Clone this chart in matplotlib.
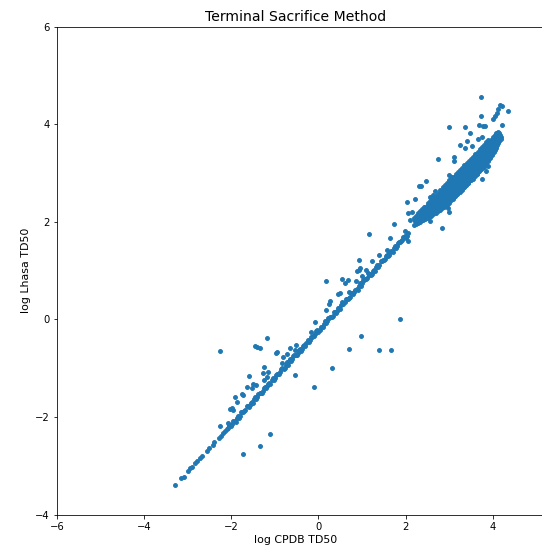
import numpy as np
import matplotlib.pyplot as plt

# sparse low end of the diagonal
low_x = [-3.29, -3.15, -3.09, -2.99, -2.94, -2.89, -2.83, -2.78, -2.71, -2.68,
         -2.56, -2.50, -2.43, -2.39, -2.29, -2.24, -2.19, -2.14, -2.10]
low_y = [-3.40, -3.26, -3.22, -3.10, -3.05, -3.02, -2.95, -2.91, -2.83, -2.80,
         -2.70, -2.63, -2.57, -2.52, -2.44, -2.38, -2.33, -2.29, -2.25]

# dense diagonal band
band_x = [-2.05, -2.00, -1.95, -1.90, -1.85, -1.80, -1.75, -1.70, -1.65, -1.60,
          -1.55, -1.50, -1.45, -1.40, -1.35, -1.30, -1.25, -1.20, -1.15, -1.10,
          -1.05, -1.00, -0.95, -0.90, -0.85, -0.80, -0.75, -0.70, -0.65, -0.60,
          -0.55, -0.50, -0.45, -0.40, -0.35, -0.30, -0.25, -0.20, -0.15, -0.10,
          -0.05, 0.00, 0.05, 0.10, 0.15, 0.20, 0.25, 0.30, 0.35, 0.40,
          0.45, 0.50, 0.55, 0.60, 0.65, 0.70, 0.75, 0.80, 0.85, 0.90,
          0.95, 1.00, 1.05, 1.10, 1.15, 1.20, 1.25, 1.30, 1.35, 1.40,
          1.45, 1.50, 1.55, 1.60, 1.65, 1.70, 1.75, 1.80, 1.85, 1.90,
          1.95, 2.00, 2.05]
band_y = [-2.17, -2.18, -2.09, -2.10, -1.97, -1.97, -1.89, -1.88, -1.78, -1.80,
          -1.71, -1.71, -1.58, -1.58, -1.50, -1.50, -1.40, -1.41, -1.32, -1.32,
          -1.19, -1.20, -1.12, -1.11, -1.01, -1.02, -0.94, -0.94, -0.81, -0.81,
          -0.73, -0.72, -0.63, -0.64, -0.55, -0.55, -0.42, -0.42, -0.35, -0.34,
          -0.24, -0.25, -0.16, -0.16, -0.04, -0.04, 0.04, 0.05, 0.15, 0.14,
          0.23, 0.22, 0.35, 0.35, 0.43, 0.44, 0.54, 0.52, 0.61, 0.61,
          0.74, 0.74, 0.81, 0.82, 0.92, 0.91, 1.00, 1.00, 1.12, 1.12,
          1.20, 1.21, 1.31, 1.30, 1.38, 1.38, 1.51, 1.51, 1.59, 1.60,
          1.69, 1.68, 1.77]
band2_x = [-2.075, -2.025, -1.975, -1.925, -1.875, -1.825, -1.775, -1.725, -1.675, -1.625,
           -1.575, -1.525, -1.475, -1.425, -1.375, -1.325, -1.275, -1.225, -1.175, -1.125,
           -1.075, -1.025, -0.975, -0.925, -0.875, -0.825, -0.775, -0.725, -0.675, -0.625,
           -0.575, -0.525, -0.475, -0.425, -0.375, -0.325, -0.275, -0.225, -0.175, -0.125,
           -0.075, -0.025, 0.025, 0.075, 0.125, 0.175, 0.225, 0.275, 0.325, 0.375,
           0.425, 0.475, 0.525, 0.575, 0.625, 0.675, 0.725, 0.775, 0.825, 0.875,
           0.925, 0.975, 1.025, 1.075, 1.125, 1.175, 1.225, 1.275, 1.325, 1.375,
           1.425, 1.475, 1.525, 1.575, 1.625, 1.675, 1.725, 1.775, 1.825, 1.875,
           1.925, 1.975, 2.025]
band2_y = [-2.23, -2.16, -2.15, -2.08, -2.02, -2.01, -1.90, -1.89, -1.85, -1.77,
           -1.76, -1.69, -1.63, -1.63, -1.52, -1.50, -1.46, -1.38, -1.37, -1.31,
           -1.25, -1.24, -1.13, -1.11, -1.08, -1.00, -0.99, -0.92, -0.86, -0.85,
           -0.75, -0.73, -0.69, -0.61, -0.60, -0.53, -0.48, -0.47, -0.36, -0.34,
           -0.30, -0.22, -0.22, -0.15, -0.09, -0.08, 0.03, 0.05, 0.08, 0.16,
           0.17, 0.24, 0.30, 0.31, 0.41, 0.43, 0.47, 0.55, 0.56, 0.63,
           0.68, 0.69, 0.80, 0.82, 0.86, 0.94, 0.94, 1.01, 1.07, 1.08,
           1.19, 1.21, 1.24, 1.32, 1.33, 1.40, 1.46, 1.47, 1.57, 1.59,
           1.63, 1.71, 1.72]

# dense cluster at the top end
blob_x = [2.19, 2.22, 2.20, 2.24, 2.27, 2.25,
          2.29, 2.32, 2.30, 2.28, 2.34, 2.37, 2.35, 2.33,
          2.39, 2.42, 2.40, 2.38, 2.44, 2.47, 2.45, 2.43,
          2.49, 2.52, 2.50, 2.48, 2.51, 2.54, 2.57, 2.55, 2.53, 2.56,
          2.59, 2.62, 2.60, 2.58, 2.61, 2.64, 2.67, 2.65, 2.63, 2.66,
          2.69, 2.72, 2.70, 2.68, 2.71, 2.74, 2.77, 2.75, 2.73, 2.76,
          2.79, 2.82, 2.80, 2.78, 2.81, 2.80, 2.84, 2.87, 2.85, 2.83, 2.86, 2.85,
          2.89, 2.92, 2.90, 2.88, 2.91, 2.90, 2.94, 2.97, 2.95, 2.93, 2.96, 2.95,
          2.99, 3.02, 3.00, 2.98, 3.01, 3.00, 3.04, 3.07, 3.05, 3.03, 3.06, 3.05,
          3.09, 3.12, 3.10, 3.08, 3.11, 3.10, 3.14, 3.17, 3.15, 3.13, 3.16, 3.15,
          3.19, 3.22, 3.20, 3.18, 3.21, 3.20, 3.24, 3.27, 3.25, 3.23, 3.26, 3.25,
          3.29, 3.32, 3.30, 3.28, 3.31, 3.30, 3.34, 3.37, 3.35, 3.33, 3.36, 3.35,
          3.39, 3.42, 3.40, 3.38, 3.41, 3.40, 3.44, 3.47, 3.45, 3.43, 3.46, 3.45,
          3.49, 3.52, 3.50, 3.48, 3.51, 3.50, 3.54, 3.57, 3.55, 3.53, 3.56, 3.55,
          3.59, 3.62, 3.60, 3.58, 3.61, 3.60, 3.64, 3.67, 3.65, 3.63, 3.66, 3.65,
          3.69, 3.72, 3.70, 3.68, 3.71, 3.70, 3.74, 3.77, 3.75, 3.73, 3.76, 3.75,
          3.79, 3.82, 3.80, 3.78, 3.81, 3.80, 3.84, 3.87, 3.85, 3.83, 3.86, 3.85,
          3.89, 3.92, 3.90, 3.88, 3.91, 3.90, 3.94, 3.97, 3.95, 3.93, 3.96,
          3.99, 4.02, 4.00, 3.98, 4.01, 4.04, 4.07, 4.05, 4.03, 4.06,
          4.09, 4.12, 4.10, 4.08, 4.14, 4.17, 4.15]
blob_y = [1.93, 2.02, 2.08, 1.95, 2.03, 2.12,
          1.98, 2.06, 2.15, 2.19, 2.00, 2.09, 2.17, 2.22,
          2.03, 2.11, 2.18, 2.27, 2.06, 2.14, 2.22, 2.31,
          2.09, 2.18, 2.25, 2.33, 2.38, 2.11, 2.20, 2.28, 2.36, 2.42,
          2.13, 2.23, 2.31, 2.39, 2.46, 2.16, 2.26, 2.34, 2.43, 2.51,
          2.19, 2.29, 2.37, 2.45, 2.55, 2.22, 2.32, 2.41, 2.50, 2.59,
          2.25, 2.35, 2.44, 2.53, 2.62, 2.66, 2.28, 2.38, 2.48, 2.57, 2.65, 2.71,
          2.31, 2.42, 2.52, 2.61, 2.70, 2.76, 2.35, 2.46, 2.56, 2.64, 2.73, 2.80,
          2.39, 2.49, 2.60, 2.69, 2.77, 2.85, 2.44, 2.54, 2.64, 2.73, 2.82, 2.89,
          2.48, 2.59, 2.69, 2.78, 2.86, 2.93, 2.53, 2.63, 2.73, 2.82, 2.91, 2.98,
          2.57, 2.67, 2.77, 2.86, 2.95, 3.02, 2.62, 2.72, 2.82, 2.91, 3.00, 3.07,
          2.66, 2.76, 2.86, 2.95, 3.04, 3.11, 2.71, 2.81, 2.91, 3.00, 3.09, 3.16,
          2.75, 2.85, 2.95, 3.04, 3.13, 3.20, 2.80, 2.90, 3.00, 3.09, 3.18, 3.25,
          2.85, 2.95, 3.05, 3.14, 3.23, 3.30, 2.89, 2.99, 3.09, 3.18, 3.27, 3.34,
          2.94, 3.04, 3.14, 3.23, 3.32, 3.39, 2.99, 3.09, 3.19, 3.28, 3.37, 3.44,
          3.04, 3.14, 3.24, 3.33, 3.42, 3.49, 3.08, 3.18, 3.28, 3.37, 3.46, 3.53,
          3.13, 3.23, 3.33, 3.42, 3.51, 3.58, 3.20, 3.30, 3.39, 3.48, 3.57, 3.63,
          3.26, 3.36, 3.45, 3.54, 3.62, 3.67, 3.33, 3.43, 3.51, 3.60, 3.68,
          3.40, 3.49, 3.57, 3.66, 3.74, 3.48, 3.56, 3.64, 3.72, 3.79,
          3.57, 3.65, 3.73, 3.82, 3.66, 3.74, 3.83]
blob2_x = [2.23, 2.22, 2.28, 2.27, 2.33, 2.32,
           2.38, 2.37, 2.36, 2.43, 2.42, 2.41, 2.48, 2.47, 2.46,
           2.53, 2.52, 2.51, 2.54, 2.58, 2.57, 2.56, 2.59,
           2.63, 2.62, 2.61, 2.64, 2.68, 2.67, 2.66, 2.69,
           2.73, 2.72, 2.71, 2.74, 2.78, 2.77, 2.76, 2.79,
           2.83, 2.82, 2.81, 2.84, 2.88, 2.87, 2.86, 2.89, 2.87,
           2.93, 2.92, 2.91, 2.94, 2.92, 2.98, 2.97, 2.96, 2.99, 2.97,
           3.03, 3.02, 3.01, 3.04, 3.02, 3.08, 3.07, 3.06, 3.09, 3.07,
           3.13, 3.12, 3.11, 3.14, 3.12, 3.18, 3.17, 3.16, 3.19, 3.17,
           3.23, 3.22, 3.21, 3.24, 3.22, 3.28, 3.27, 3.26, 3.29, 3.27,
           3.33, 3.32, 3.31, 3.34, 3.32, 3.38, 3.37, 3.36, 3.39, 3.37,
           3.43, 3.42, 3.41, 3.44, 3.42, 3.48, 3.47, 3.46, 3.49, 3.47,
           3.53, 3.52, 3.51, 3.54, 3.52, 3.58, 3.57, 3.56, 3.59, 3.57,
           3.63, 3.62, 3.61, 3.64, 3.62, 3.68, 3.67, 3.66, 3.69, 3.67,
           3.73, 3.72, 3.71, 3.74, 3.72, 3.78, 3.77, 3.76, 3.79, 3.77,
           3.83, 3.82, 3.81, 3.84, 3.82, 3.88, 3.87, 3.86, 3.89, 3.87,
           3.93, 3.92, 3.91, 3.94, 3.98, 3.97, 3.96, 3.99,
           4.03, 4.02, 4.01, 4.04, 4.08, 4.07, 4.06, 4.09,
           4.13, 4.12, 4.11, 4.18, 4.17]
blob2_y = [1.97, 2.05, 1.99, 2.07, 2.02, 2.11,
           2.05, 2.13, 2.20, 2.07, 2.15, 2.23, 2.10, 2.18, 2.26,
           2.13, 2.22, 2.29, 2.36, 2.16, 2.24, 2.32, 2.39,
           2.18, 2.27, 2.35, 2.43, 2.21, 2.30, 2.38, 2.47,
           2.24, 2.33, 2.41, 2.50, 2.27, 2.36, 2.45, 2.55,
           2.30, 2.40, 2.49, 2.58, 2.33, 2.43, 2.52, 2.61, 2.68,
           2.36, 2.47, 2.56, 2.65, 2.73, 2.40, 2.51, 2.60, 2.69, 2.77,
           2.44, 2.55, 2.64, 2.73, 2.81, 2.49, 2.59, 2.68, 2.77, 2.85,
           2.53, 2.64, 2.73, 2.82, 2.90, 2.58, 2.68, 2.77, 2.86, 2.94,
           2.62, 2.72, 2.81, 2.90, 2.98, 2.67, 2.77, 2.86, 2.95, 3.03,
           2.71, 2.81, 2.90, 2.99, 3.07, 2.76, 2.86, 2.95, 3.04, 3.12,
           2.80, 2.90, 2.99, 3.08, 3.16, 2.85, 2.95, 3.04, 3.13, 3.21,
           2.90, 3.00, 3.09, 3.18, 3.26, 2.94, 3.04, 3.13, 3.22, 3.30,
           2.99, 3.09, 3.18, 3.27, 3.35, 3.04, 3.14, 3.23, 3.32, 3.40,
           3.09, 3.19, 3.28, 3.37, 3.45, 3.13, 3.23, 3.32, 3.41, 3.49,
           3.18, 3.28, 3.37, 3.46, 3.54, 3.25, 3.34, 3.43, 3.52, 3.60,
           3.31, 3.40, 3.49, 3.58, 3.38, 3.47, 3.55, 3.64,
           3.44, 3.53, 3.61, 3.70, 3.52, 3.60, 3.68, 3.75,
           3.61, 3.69, 3.77, 3.70, 3.78]

# points off the diagonal
out_x = [-2.25, -1.18, -1.45, -1.40, -1.35, -0.97, -0.95, -0.82, -0.71, -0.66,
         -0.51, -0.53, -0.18, -0.09, 0.17, 0.25, 0.27, 0.46, 0.50, 0.70,
         0.18, 0.55, 0.69, 0.86, 0.60, 0.92, 0.96, 0.88, 1.10, 1.13,
         1.00, 0.93, 1.17, 1.22, 1.38, 1.57, 1.61, 1.74, 1.64, 1.98,
         2.05, 2.04, 2.21, 2.05, 2.14, 2.11, 2.23, 2.31, 2.36, 2.47,
         2.63, 2.56, 2.68, 2.75, 3.10, 3.11, 3.00, 3.36, 3.48, 3.40,
         3.25, 3.36, 3.52, 3.67, 3.75, 3.69, 3.78, 3.82, 3.73, 3.73,
         4.17, 4.21, 4.34, 4.13, 4.09, 4.05, 4.00, 4.21, 4.13, 4.18,
         3.00, 3.06, 3.90, 3.85, 3.75, 3.33, 2.84, 2.55, 2.97, 3.00,
         -1.73, -1.35, -1.11, -0.53, -0.11, 0.31, 0.70, 1.39, 1.66, 0.97,
         1.87, -2.25, -2.08, -2.06, -1.99, -2.03, -1.95, -1.91, -1.86, -1.76,
         -1.72, -1.64, -1.53, -1.49, -1.43, -1.59, -1.25, -1.28, -1.15, -1.26,
         -1.18, -0.84, -0.72]
out_y = [-0.65, -0.37, -0.54, -0.56, -0.58, -0.69, -0.66, -0.76, -0.71, -0.59,
         -0.52, -0.63, -0.26, -0.06, 0.19, 0.31, 0.37, 0.52, 0.54, 0.56,
         0.79, 0.84, 0.81, 0.79, 0.75, 1.02, 1.05, 0.99, 1.01, 0.95,
         0.90, 1.22, 1.75, 1.19, 1.32, 1.43, 1.39, 1.96, 1.67, 1.81,
         1.61, 2.41, 2.47, 2.18, 2.20, 2.05, 2.08, 2.74, 2.74, 2.84,
         2.56, 2.52, 2.64, 3.30, 3.33, 3.25, 3.94, 3.94, 3.82, 3.65,
         3.58, 3.52, 3.55, 3.70, 3.74, 3.99, 3.97, 3.97, 4.18, 4.56,
         4.39, 4.37, 4.27, 4.32, 4.23, 4.18, 4.11, 3.99, 3.84, 3.75,
         2.97, 2.93, 3.14, 3.04, 2.88, 2.73, 1.87, 2.01, 2.28, 2.20,
         -2.75, -2.59, -2.34, -1.14, -1.38, -1.00, -0.61, -0.63, -0.63, -0.34,
         0.00, -2.19, -2.12, -2.17, -1.82, -1.84, -1.86, -1.58, -1.70, -1.52,
         -1.55, -1.39, -1.41, -1.32, -1.35, -1.16, -0.98, -1.09, -1.07, -1.24,
         -1.17, -0.90, -0.87]

x = np.concatenate([low_x, band_x, band2_x, blob_x, blob2_x, out_x])
y = np.concatenate([low_y, band_y, band2_y, blob_y, blob2_y, out_y])

fig = plt.figure(figsize=(542 / 72, 548 / 72), dpi=72)
# the right edge of the axes runs past the picture, as in the original crop
ax = fig.add_axes([0.105, 0.061, 0.965, 0.890])
ax.scatter(x, y, s=15, color='#1f77b4')
ax.set_xlim(-6, 6)
ax.set_ylim(-4, 6)
ax.set_xticks([-6, -4, -2, 0, 2, 4])
ax.set_yticks([-4, -2, 0, 2, 4, 6])
ax.set_title('Terminal Sacrifice Method', fontsize=14, x=0.457)
ax.set_xlabel('log CPDB TD50', fontsize=11)
ax.xaxis.set_label_coords(0.457, -0.042)
ax.set_ylabel('log Lhasa TD50', fontsize=11)
fig.savefig('out.png', dpi=72)
